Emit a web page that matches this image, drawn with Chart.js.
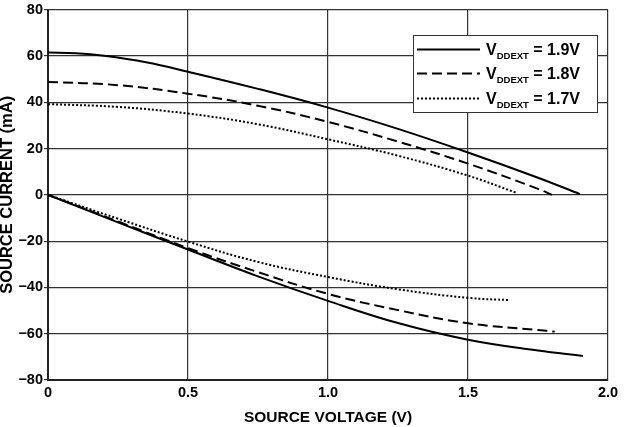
<!DOCTYPE html>
<html>
<head>
<meta charset="utf-8">
<script src="https://cdn.jsdelivr.net/npm/chart.js@4.4.1/dist/chart.umd.min.js"></script>
<style>
  html, body { margin: 0; padding: 0; background: #fff; }
  #wrap { width: 625px; height: 427px; position: relative; }
</style>
</head>
<body>
<div id="wrap"><canvas id="c" width="625" height="427"></canvas></div>
<script>
// ---- Data (V in volts, I in mA) ----
const seriesLabels = ['1.9V', '1.8V', '1.7V'];

const v19Source = [0, 0.1, 0.2, 0.35, 0.5, 0.75, 1.0, 1.25, 1.5, 1.75, 1.9];
const i19Source = [61.5, 61.2, 60.1, 57.3, 53.2, 45.8, 37.7, 28.5, 18.3, 7.4, 0.3];
const v18Source = [0, 0.25, 0.5, 0.75, 1.0, 1.25, 1.5, 1.75, 1.8];
const i18Source = [48.8, 47.4, 43.7, 38.5, 31.5, 23.0, 13.5, 2.6, 0];
const v17Source = [0, 0.25, 0.5, 0.75, 1.0, 1.25, 1.5, 1.67];
const i17Source = [39.2, 38.0, 35.1, 30.5, 24.0, 16.9, 8.3, 1.0];

const v19Sink = [0, 0.25, 0.5, 0.75, 1.0, 1.25, 1.5, 1.75, 1.91];
const i19Sink = [0, -11.9, -23.6, -35.2, -45.8, -55.4, -62.6, -67.3, -69.6];
const v18Sink = [0, 0.25, 0.5, 0.75, 1.0, 1.25, 1.5, 1.75, 1.81];
const i18Sink = [0, -11.5, -23.0, -33.4, -42.8, -49.8, -55.5, -58.4, -59.1];
const v17Sink = [0, 0.25, 0.5, 0.75, 1.0, 1.25, 1.5, 1.65];
const i17Sink = [0, -10.3, -20.2, -29.0, -35.5, -40.8, -44.5, -45.5];

const xTicks = [0, 0.5, 1.0, 1.5, 2.0];
const yTicks = [-80, -60, -40, -20, 0, 20, 40, 60, 80];

// ---- styles ----
const styles = [
  { borderDash: [], borderWidth: 2 },
  { borderDash: [10, 5], borderWidth: 2 },
  { borderDash: [2, 2], borderWidth: 2 }
];

function pts(xs, ys) { return xs.map((x, i) => ({ x: x, y: ys[i] })); }

function ds(label, xs, ys, s) {
  return {
    label: label,
    data: pts(xs, ys),
    borderColor: '#000',
    backgroundColor: '#000',
    borderWidth: s.borderWidth,
    borderDash: s.borderDash,
    pointRadius: 0,
    fill: false,
    tension: 0.4
  };
}

const datasets = [
  ds(seriesLabels[0], v19Source, i19Source, styles[0]),
  ds(seriesLabels[1], v18Source, i18Source, styles[1]),
  ds(seriesLabels[2], v17Source, i17Source, styles[2]),
  ds(seriesLabels[0], v19Sink, i19Sink, styles[0]),
  ds(seriesLabels[1], v18Sink, i18Sink, styles[1]),
  ds(seriesLabels[2], v17Sink, i17Sink, styles[2])
];

const FONT = '"Liberation Sans", Arial, Helvetica, sans-serif';

const legendPlugin = {
  id: 'vddextLegend',
  afterDatasetsDraw(chart) {
    const ctx = chart.ctx;
    const bx = 413, by = 35, bw = 184, bh = 77;
    ctx.save();
    ctx.fillStyle = '#fff';
    ctx.fillRect(bx, by, bw, bh);
    ctx.strokeStyle = '#333';
    ctx.lineWidth = 1;
    ctx.strokeRect(bx + 0.5, by + 0.5, bw, bh);
    const rows = [49.5, 73.5, 98.5];
    for (let k = 0; k < 3; k++) {
      const d = chart.data.datasets[k];
      const y = rows[k];
      ctx.beginPath();
      ctx.setLineDash(d.borderDash);
      ctx.lineWidth = d.borderWidth;
      ctx.strokeStyle = '#000';
      ctx.moveTo(417, y);
      ctx.lineTo(480, y);
      ctx.stroke();
      ctx.setLineDash([]);
      ctx.fillStyle = '#000';
      ctx.textBaseline = 'alphabetic';
      ctx.textAlign = 'left';
      let x = 486;
      ctx.font = 'bold 16px ' + FONT;
      ctx.fillText('V', x, y + 5.8);
      x += ctx.measureText('V').width;
      ctx.font = 'bold 9.5px ' + FONT;
      ctx.fillText('DDEXT', x, y + 9);
      x += ctx.measureText('DDEXT').width;
      ctx.font = 'bold 16px ' + FONT;
      ctx.fillText(' = ' + d.label, x, y + 5.8);
    }
    ctx.restore();
  }
};

new Chart(document.getElementById('c'), {
  type: 'line',
  data: { datasets: datasets },
  plugins: [legendPlugin],
  options: {
    responsive: false,
    animation: false,
    events: [],
    layout: { padding: { top: 9, right: 17, left: 0, bottom: 0 } },
    plugins: { legend: { display: false }, tooltip: { enabled: false } },
    scales: {
      x: {
        type: 'linear',
        min: 0, max: 2,
        afterBuildTicks: (s) => { s.ticks = xTicks.map(v => ({ value: v })); },
        afterFit: (s) => { s.height = 47; },
        ticks: {
          color: '#000',
          padding: 4,
          maxRotation: 0,
          font: { family: FONT, size: 14.5, weight: 'bold' },
          callback: (v) => v === 0 ? '0' : Number(v).toFixed(1)
        },
        grid: { color: '#333', lineWidth: 1.2, drawTicks: false },
        border: { color: '#222', width: 2 },
        title: {
          display: true,
          text: 'SOURCE VOLTAGE (V)',
          color: '#000',
          padding: { top: 0, bottom: 0 },
          font: { family: FONT, size: 15.5, weight: 'bold', lineHeight: 1.15 }
        }
      },
      y: {
        type: 'linear',
        min: -80, max: 80,
        afterBuildTicks: (s) => { s.ticks = yTicks.map(v => ({ value: v })); },
        afterFit: (s) => { s.width = 48; },
        ticks: {
          color: '#000',
          padding: 1,
          font: { family: FONT, size: 14.5, weight: 'bold' },
          callback: (v) => String(v).replace('-', '\u2212')
        },
        grid: { color: '#333', lineWidth: 1.2, tickLength: 4, tickColor: '#333' },
        border: { color: '#222', width: 2 },
        title: {
          display: true,
          text: 'SOURCE CURRENT (mA)',
          color: '#000',
          padding: { top: 0, bottom: 0 },
          font: { family: FONT, size: 16.5, weight: 'bold', lineHeight: 0.85 }
        }
      }
    }
  }
});
</script>
</body>
</html>
